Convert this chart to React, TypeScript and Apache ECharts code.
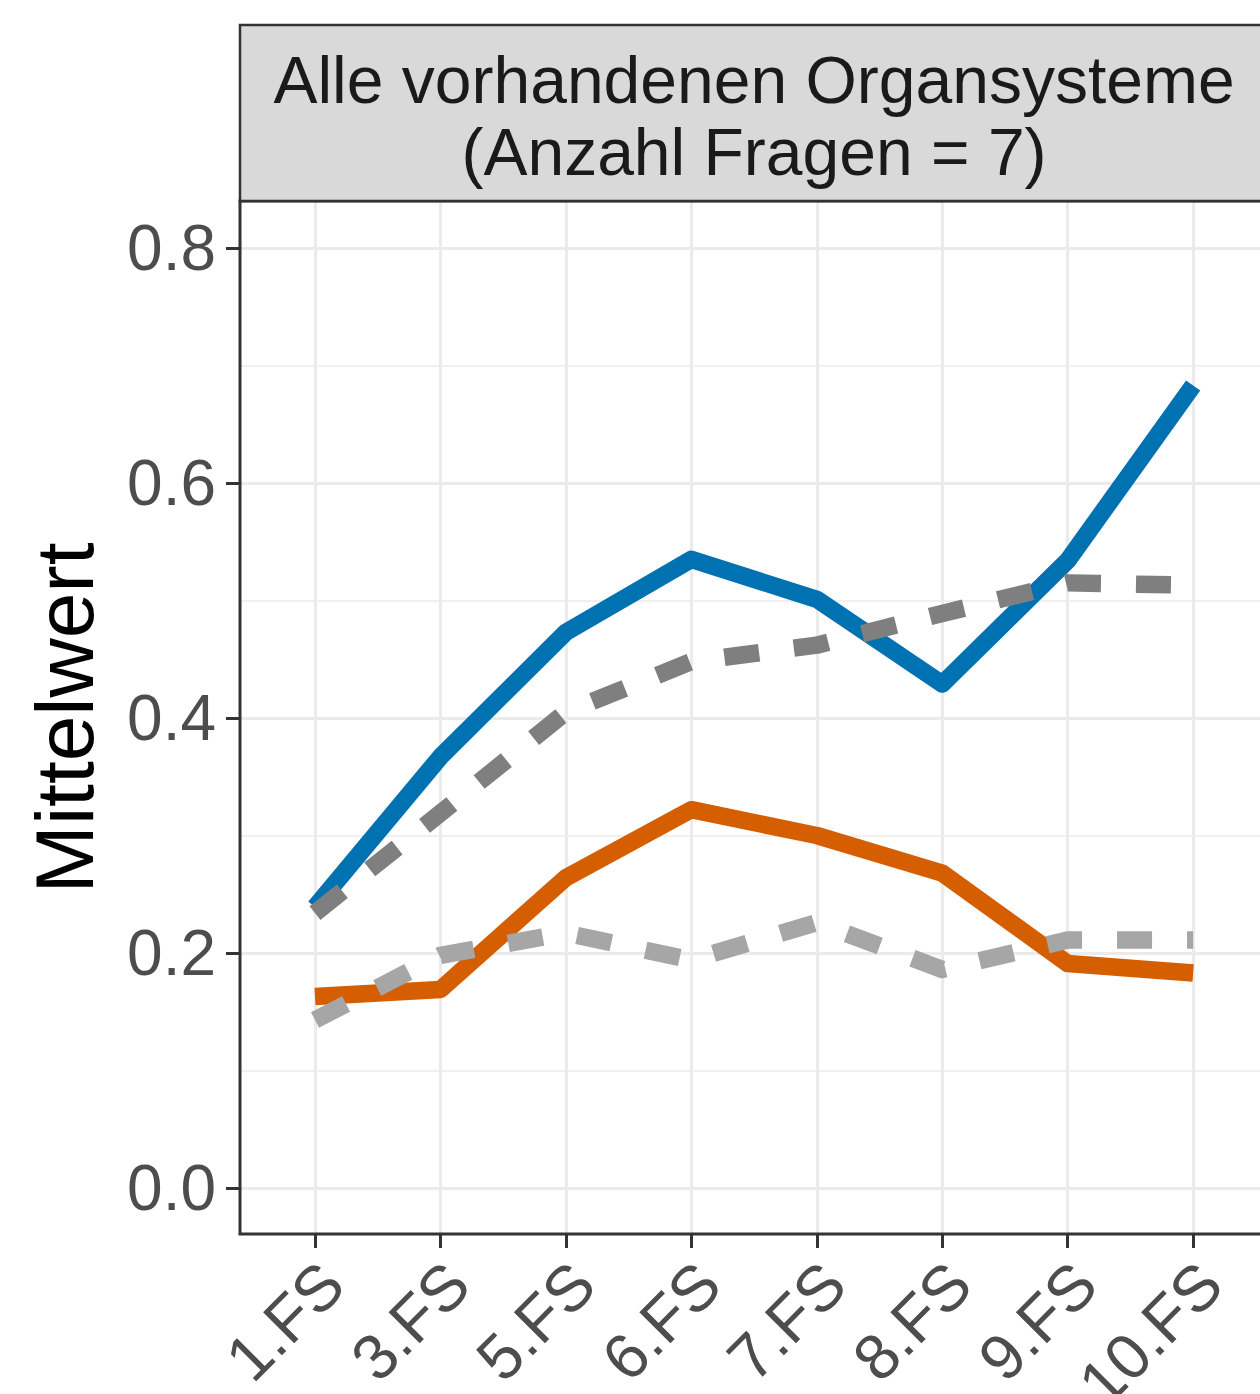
import React, { useEffect, useRef } from "react";
import * as echarts from "echarts";

const categories = ["1.FS", "3.FS", "5.FS", "6.FS", "7.FS", "8.FS", "9.FS", "10.FS"];
const blueValues = [0.239, 0.367, 0.473, 0.535, 0.501, 0.429, 0.534, 0.683];
const orangeValues = [0.163, 0.169, 0.264, 0.322, 0.300, 0.268, 0.191, 0.183];
const darkGrayValues = [0.234, 0.319, 0.405, 0.448, 0.462, 0.489, 0.515, 0.513];
const lightGrayValues = [0.143, 0.198, 0.217, 0.194, 0.226, 0.186, 0.211, 0.211];
const yTicks = { min: 0, max: 0.8, step: 0.2 };
const stripLines = ["Alle vorhandenen Organsysteme", "(Anzahl Fragen = 7)"];
const yTitle = "Mittelwert";

const FONT = "'Liberation Sans', Arial, Helvetica, sans-serif";

export default function App() {
  const ref = useRef<HTMLDivElement>(null);
  useEffect(() => {
    if (!ref.current) return;
    const chart = echarts.init(ref.current, null, { renderer: "svg" });
    // panel geometry
    const pL = 240, pT = 201, pW = 1028, pB = 1234;
    const y0 = 1188, y08 = 248;
    // data axis extent matching the full panel
    const pxPerUnit = (y0 - y08) / (yTicks.max - yTicks.min);
    const dataMin = -(pB - y0) / pxPerUnit;
    const dataMax = yTicks.max + (y08 - pT) / pxPerUnit;
    const catStep = 125.45;
    const firstCat = 315;
    const lineW = 17.5;

    const mkLine = (data: number[], color: string, dashed: boolean, z: number) => ({
      type: "line",
      xAxisIndex: 1,
      yAxisIndex: 1,
      data,
      symbol: "none",
      silent: true,
      clip: false,
      z,
      lineStyle: {
        color,
        width: lineW,
        type: dashed ? [35, 35] : "solid",
        cap: "butt",
        join: "round",
      },
    });

    chart.setOption({
      animation: false,
      backgroundColor: "#fff",
      grid: [
        {
          left: pL,
          top: y08,
          width: pW,
          height: y0 - y08,
          containLabel: false,
          outerBoundsMode: "none",
        },
        {
          left: firstCat,
          top: pT,
          width: catStep * (categories.length - 1),
          height: pB - pT,
          containLabel: false,
          outerBoundsMode: "none",
        },
      ],
      xAxis: [
        { gridIndex: 0, type: "value", show: false },
        {
          gridIndex: 1,
          type: "category",
          position: "bottom",
          data: categories,
          boundaryGap: false,
          axisLine: { show: false, onZero: false },
          axisTick: {
            show: true,
            length: 14,
            lineStyle: { color: "#333333", width: 3 },
          },
          axisLabel: {
            rotate: 45,
            margin: 12,
            align: "right",
            verticalAlign: "top",
            padding: [0, 7, 0, 0],
            fontSize: 64,
            fontFamily: FONT,
            color: "#4D4D4D",
            interval: 0,
          },
          splitLine: { show: true, lineStyle: { color: "#EBEBEB", width: 3 } },
        },
      ],
      yAxis: [
        {
          gridIndex: 0,
          type: "value",
          min: yTicks.min,
          max: yTicks.max,
          interval: yTicks.step,
          name: yTitle,
          nameLocation: "middle",
          nameGap: 135,
          nameTextStyle: { fontSize: 82, fontFamily: FONT, color: "#000000" },
          axisLine: { show: false },
          axisTick: {
            show: true,
            length: 14,
            lineStyle: { color: "#333333", width: 3 },
          },
          axisLabel: {
            margin: 24,
            fontSize: 64,
            fontFamily: FONT,
            color: "#4D4D4D",
            formatter: (v: number) => v.toFixed(1),
          },
          splitLine: { show: true, lineStyle: { color: "#EBEBEB", width: 3 } },
          minorTick: { show: false, splitNumber: 2 },
          minorSplitLine: { show: true, lineStyle: { color: "#EBEBEB", width: 1.5 } },
        },
        {
          gridIndex: 1,
          type: "value",
          min: dataMin,
          max: dataMax,
          show: false,
          splitLine: { show: false },
        },
      ],
      graphic: [
        {
          type: "rect",
          z: 100,
          silent: true,
          shape: { x: pL, y: pT, width: pW, height: pB - pT },
          style: { fill: "none", stroke: "#333333", lineWidth: 3 },
        },
        {
          type: "rect",
          z: 100,
          silent: true,
          shape: { x: pL, y: 25, width: pW, height: pT - 25 },
          style: { fill: "#D9D9D9", stroke: "#333333", lineWidth: 2.5 },
        },
        {
          type: "text",
          z: 101,
          silent: true,
          x: 754,
          y: 80,
          style: {
            text: stripLines[0],
            fontSize: 66,
            fontFamily: FONT,
            fill: "#1A1A1A",
            align: "center",
            verticalAlign: "middle",
          },
        },
        {
          type: "text",
          z: 101,
          silent: true,
          x: 754,
          y: 152,
          style: {
            text: stripLines[1],
            fontSize: 66,
            fontFamily: FONT,
            fill: "#1A1A1A",
            align: "center",
            verticalAlign: "middle",
          },
        },
      ],
      series: [
        mkLine(blueValues, "#0072B2", false, 2),
        mkLine(orangeValues, "#D55E00", false, 3),
        mkLine(darkGrayValues, "#7F7F7F", true, 4),
        mkLine(lightGrayValues, "#A6A6A6", true, 5),
      ],
    });
    return () => chart.dispose();
  }, []);
  return (
    <div
      ref={ref}
      style={{ position: "absolute", left: 0, top: 0, width: 1260, height: 1394, overflow: "hidden" }}
    />
  );
}
